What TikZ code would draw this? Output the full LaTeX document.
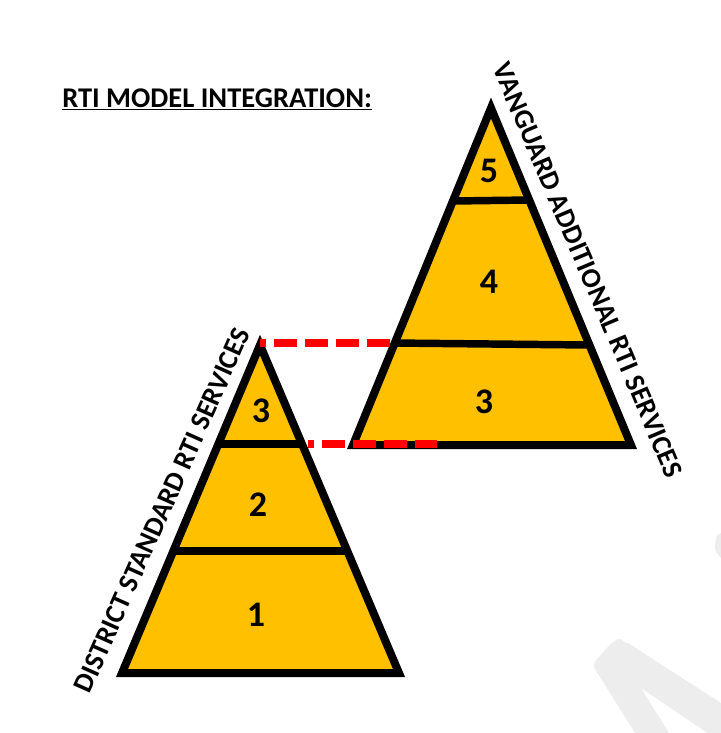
\documentclass[tikz,border=0pt]{standalone}
\usepackage{fontspec}
\setmainfont{Carlito}
\usetikzlibrary{calc}
\tikzset{
  tri/.style={draw=black,fill=pyr,line width=6pt,line join=miter,miter limit=10},
  band/.style={draw=black,line width=5.6pt},
  link/.style={draw=linkred,line width=5.4pt,dash pattern=on 17.25pt off 6pt},
  num/.style={font=\bfseries\fontsize{27}{27}\selectfont,inner sep=0pt,text=black},
  lab/.style={font=\bfseries\fontsize{21.4}{22}\selectfont,inner sep=0pt,text=black},
  sidelab/.style={font=\bfseries\fontsize{21}{22}\selectfont,inner sep=0pt,text=black}
}
\definecolor{pyr}{HTML}{FFC000}
\definecolor{linkred}{HTML}{FF0000}
\definecolor{wm}{HTML}{EDEDED}
\begin{document}
\begin{tikzpicture}[x=0.75pt,y=-0.75pt]
\useasboundingbox (0,0) rectangle (721,733);
\clip (0,0) rectangle (721,733);
% watermark
\fill[wm] (721,703) -- (628,643) to[out=210,in=30] (618,639) to[out=210,in=45] (597,659) to[out=225,in=120] (595,669) -- (635,733) -- (669,733) -- (641,688) -- (721,742) -- cycle;
\fill[wm] (721,533) to[out=190,in=80] (715,545) to[out=260,in=130] (721,558) -- cycle;
% left pyramid
\coordinate (LA) at (260,345);
\coordinate (LL) at (122,673);
\coordinate (LR) at (399,673);
\draw[tri] (LA) -- (LL) -- (LR) -- cycle;
\coordinate (L1a) at (220,444); \coordinate (L1b) at (303,444);
\coordinate (L2a) at (175,551); \coordinate (L2b) at (346,551);
\draw[band] (L1a) -- (L1b);
\draw[band] (L2a) -- (L2b);
% right pyramid
\coordinate (RA) at (491,108);
\coordinate (RL) at (353,445);
\coordinate (RR) at (631,445);
\draw[tri] (RA) -- (RL) -- (RR) -- cycle;
\coordinate (R1a) at (453,201); \coordinate (R1b) at (529,200);
\coordinate (R2a) at (393,343); \coordinate (R2b) at (589,345);
\draw[band] (R1a) -- (R1b);
\draw[band] (R2a) -- (R2b);
% links
\coordinate (T1) at (260,343);
\coordinate (T2) at (390,343);
\coordinate (B1) at (308,444);
\coordinate (B2) at (437,444);
\draw[link,dash phase=12.75pt] (T1) -- (T2);
\draw[link,dash phase=12.75pt] (B1) -- (B2);
% numbers
\node[num] (n1) at (256,615) {1};
\node[num] (n2) at (258,505) {2};
\node[num] (n3) at (261,411) {3};
\node[num] (n4) at (484,402) {3};
\node[num] (n5) at (489,282) {4};
\node[num] (n6) at (489,171) {5};
% labels
\node[lab,anchor=base west] (title) at (62,107) {\underline{RTI MODEL INTEGRATION:}};
\node[sidelab,rotate=66] (dist) at (162,510) {DISTRICT STANDARD RTI SERVICES};
\node[sidelab,rotate=-67] (vang) at (588,270) {VANGUARD ADDITIONAL RTI SERVICES};
\end{tikzpicture}
\end{document}
